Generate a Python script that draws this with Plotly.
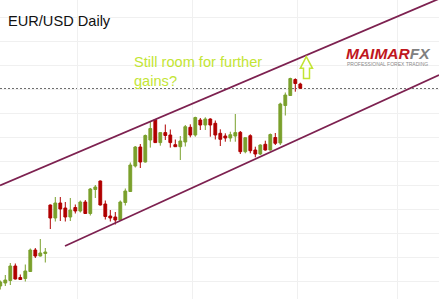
import plotly.graph_objects as go

# ---- data (EUR/USD daily candles) ----
day = list(range(61))
open_ = [1.0475, 1.0490, 1.05025, 1.0575, 1.05175, 1.05125, 1.05475, 1.0655, 1.0625, 1.06375,
         1.0880, 1.0815, 1.0890, 1.0865, 1.0820, 1.08675, 1.0850, 1.0895, 1.08375, 1.09575,
         1.1000, 1.0885, 1.0825, 1.0820, 1.0805, 1.08925, 1.09475, 1.1075, 1.1170, 1.1095,
         1.1205, 1.1306, 1.1192, 1.1242, 1.1230, 1.11815, 1.11715, 1.1195, 1.12685, 1.1230,
         1.1305, 1.1280, 1.1310, 1.12885, 1.12385, 1.1225, 1.1215, 1.1225, 1.12435, 1.11465,
         1.12265, 1.1155, 1.1135, 1.11835, 1.1155, 1.12175, 1.1190, 1.13775, 1.14275, 1.15075,
         1.1485]
high = [1.05025, 1.0530, 1.0590, 1.05875, 1.05325, 1.05825, 1.06625, 1.0665, 1.0710, 1.0665,
        1.08825, 1.0920, 1.0920, 1.0895, 1.0915, 1.08825, 1.09025, 1.0905, 1.0965, 1.0980,
        1.10025, 1.09025, 1.0855, 1.0845, 1.09025, 1.09625, 1.10925, 1.1175, 1.1185, 1.12325,
        1.12975, 1.1309, 1.12425, 1.12825, 1.12575, 1.12075, 1.1225, 1.1280, 1.12835, 1.13215,
        1.1315, 1.13185, 1.13135, 1.13025, 1.12585, 1.12385, 1.12465, 1.1335, 1.1250, 1.12175,
        1.12335, 1.11715, 1.11835, 1.12015, 1.12375, 1.1240, 1.13915, 1.14425, 1.15165, 1.15135,
        1.14915]
low = [1.04575, 1.0475, 1.0480, 1.05075, 1.0505, 1.04975, 1.0545, 1.0615, 1.06225, 1.05925,
       1.0760, 1.07975, 1.0800, 1.07975, 1.0800, 1.08375, 1.08425, 1.0835, 1.08275, 1.0915,
       1.08775, 1.08075, 1.07975, 1.07825, 1.0800, 1.08775, 1.0945, 1.10675, 1.1065, 1.10925,
       1.1167, 1.1190, 1.11765, 1.1205, 1.1167, 1.1170, 1.1105, 1.11725, 1.12185, 1.12215,
       1.1255, 1.1255, 1.12215, 1.12075, 1.1175, 1.11965, 1.11965, 1.11965, 1.1135, 1.11385,
       1.11385, 1.11185, 1.1130, 1.11515, 1.11525, 1.1180, 1.1180, 1.13275, 1.1425, 1.14465,
       1.14625]
close = [1.0495, 1.0505, 1.0575, 1.0510, 1.05075, 1.0550, 1.0655, 1.0625, 1.0640, 1.0645,
         1.0815, 1.0890, 1.0860, 1.0820, 1.0855, 1.0850, 1.0895, 1.08375, 1.0960, 1.0970,
         1.0880, 1.08225, 1.0815, 1.0805, 1.0895, 1.0950, 1.1080, 1.1170, 1.1095, 1.12275,
         1.12625, 1.1192, 1.1242, 1.12275, 1.1192, 1.11715, 1.1200, 1.12715, 1.1230, 1.13175,
         1.1280, 1.1310, 1.1280, 1.1230, 1.12085, 1.1215, 1.12315, 1.1242, 1.11465, 1.12165,
         1.11515, 1.1135, 1.1180, 1.1155, 1.12325, 1.11885, 1.1385, 1.1430, 1.15125, 1.14875,
         1.14635]

# trend channel (day, price) end points
upper_x = [-0.06, 87.74]
upper_y = [1.0978, 1.1911]
lower_x = [12.94, 87.74]
lower_y = [1.0675, 1.1530]
level_price = 1.14625  # dotted resistance level

month_breaks = [15.5, 38.5, 59.5, 79.5]

GREEN = "#7aa02c"
RED = "#b00000"
CHANNEL = "#7d2150"
NOTE = "#c3e534"

fig = go.Figure()
fig.add_trace(go.Candlestick(
    x=day, open=open_, high=high, low=low, close=close,
    increasing=dict(line=dict(color=GREEN, width=1), fillcolor=GREEN),
    decreasing=dict(line=dict(color=RED, width=1), fillcolor=RED),
    whiskerwidth=0, showlegend=False, hoverinfo="skip",
))
fig.add_trace(go.Scatter(x=upper_x, y=upper_y, mode="lines",
                         line=dict(color=CHANNEL, width=1.8), showlegend=False, hoverinfo="skip"))
fig.add_trace(go.Scatter(x=lower_x, y=lower_y, mode="lines",
                         line=dict(color=CHANNEL, width=1.8), showlegend=False, hoverinfo="skip"))

fig.add_hline(y=level_price, line=dict(color="#6e6e6e", width=1, dash="2px,2px"), layer="below")

# hollow up arrow
tip_x, tip_y = 61.2, 1.16215
head_y, base_y = 1.15635, 1.15125
path = (f"M {tip_x},{tip_y} L 62.44,{head_y} L 61.84,{head_y} L 61.84,{base_y} "
        f"L 60.64,{base_y} L 60.64,{head_y} L 60.0,{head_y} Z")
fig.add_shape(type="path", path=path, xref="x", yref="y",
              line=dict(color=NOTE, width=1.5), fillcolor="rgba(0,0,0,0)")

fig.add_annotation(text="EUR/USD Daily", xref="paper", yref="paper",
                   x=6 / 439, y=1 - 21 / 299, xanchor="left", yanchor="middle",
                   showarrow=False, font=dict(family="Liberation Sans, Arial", size=14.6, color="#111111"))
fig.add_annotation(text="Still room for further<br>gains?", xref="paper", yref="paper",
                   x=132 / 439, y=1 - 52 / 299, xanchor="left", yanchor="top", align="left",
                   showarrow=False, font=dict(family="Liberation Sans, Arial", size=14.6, color=NOTE))
fig.add_annotation(text="<b><i>MAIMAR</i></b><b><i><span style='color:#808080'>FX</span></i></b>",
                   xref="paper", yref="paper", x=345 / 439, y=1 - 53 / 299,
                   xanchor="left", yanchor="middle", showarrow=False, borderpad=0,
                   font=dict(family="Liberation Sans, Arial", size=15.5, color="#c0161d"))
fig.add_annotation(text="PROFESSIONAL FOREX TRADING", xref="paper", yref="paper",
                   x=346 / 439, y=1 - 64 / 299, xanchor="left", yanchor="middle", showarrow=False,
                   borderpad=0,
                   font=dict(family="Liberation Sans, Arial", size=5, color="#8a8a8a"))

fig.update_layout(
    width=439, height=299, margin=dict(l=0, r=0, t=0, b=0),
    paper_bgcolor="white", plot_bgcolor="white",
    boxgap=0.2,
    xaxis=dict(range=[-0.06, 87.74], rangeslider=dict(visible=False),
               tickmode="array", tickvals=month_breaks, showticklabels=False,
               showgrid=True, gridcolor="#f0f0f0", gridwidth=1, zeroline=False, showline=False, ticks=""),
    yaxis=dict(range=[1.041, 1.1905], tick0=1.050, dtick=0.012, showticklabels=False,
               showgrid=True, gridcolor="#f0f0f0", gridwidth=1, zeroline=False, showline=False, ticks=""),
)

fig.write_html("out.html")
